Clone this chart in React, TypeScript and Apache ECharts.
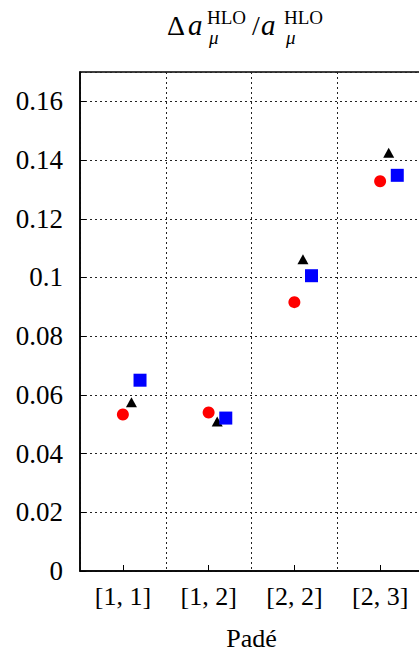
import React, { useEffect, useRef } from "react";
import * as echarts from "echarts";

const categories = ["[1, 1]", "[1, 2]", "[2, 2]", "[2, 3]"];
const redCircles = [0.0533, 0.054, 0.0916, 0.1328];
const blackTriangles = [0.0575, 0.0509, 0.1062, 0.1425];
const blueSquares = [0.065, 0.0521, 0.1006, 0.1348];
const yTicks = { min: 0, max: 0.17, interval: 0.02 };
const seriesOffsets = [0, 0.1, 0.2];

const FONT = "Liberation Serif";

function toPoints(vals: number[], off: number) {
  return vals.map((v, i) => [i + 1 + off, v]);
}

export default function App() {
  const ref = useRef<HTMLDivElement>(null);
  useEffect(() => {
    if (!ref.current) return;
    const chart = echarts.init(ref.current, null, { renderer: "svg" });
    const grid = { left: 80, top: 72, width: 343, height: 499 };
    const titleParts: any[] = [
      { t: "Δ", x: 167, y: 25, size: 28, italic: false },
      { t: "a", x: 188, y: 25, size: 29, italic: true },
      { t: "HLO", x: 207, y: 17, size: 19, italic: false },
      { t: "μ", x: 209, y: 37, size: 19, italic: true },
      { t: "/", x: 252, y: 25, size: 28, italic: false },
      { t: "a", x: 261, y: 25, size: 29, italic: true },
      { t: "HLO", x: 284, y: 17, size: 19, italic: false },
      { t: "μ", x: 286, y: 37, size: 19, italic: true },
    ];
    chart.setOption({
      animation: false,
      backgroundColor: "#fff",
      grid: {
        ...grid,
        outerBoundsMode: "none",
        containLabel: false,
        show: true,
        borderColor: "#000",
        borderWidth: 1.5,
        backgroundColor: "transparent",
      },
      graphic: titleParts.map((p) => ({
        type: "text",
        x: p.x,
        y: p.y,
        style: {
          text: p.t,
          fontSize: p.size,
          fontFamily: FONT,
          fontStyle: p.italic ? "italic" : "normal",
          fill: "#000",
          verticalAlign: "middle",
          align: "left",
        },
      })),
      xAxis: [
        {
          type: "category",
          data: categories,
          position: "bottom",
          boundaryGap: true,
          name: "Padé",
          nameLocation: "middle",
          nameGap: 54,
          nameTextStyle: { fontFamily: FONT, fontSize: 26, color: "#000" },
          axisLine: { show: true, lineStyle: { color: "#000", width: 1.5 } },
          axisTick: { show: true, inside: true, length: 6, alignWithLabel: true, lineStyle: { color: "#000" } },
          axisLabel: { fontFamily: FONT, fontSize: 26, color: "#000", margin: 12 },
          splitLine: { show: true, lineStyle: { color: "#222", type: [2, 3], width: 1 } },
        },
        {
          type: "value",
          min: 0.5,
          max: 4.5,
          show: false,
          splitLine: { show: false },
        },
      ],
      yAxis: {
        type: "value",
        min: yTicks.min,
        max: yTicks.max,
        interval: yTicks.interval,
        axisLine: { show: true, lineStyle: { color: "#000", width: 1.5 } },
        axisTick: { show: true, inside: true, length: 6, lineStyle: { color: "#000" } },
        axisLabel: { fontFamily: FONT, fontSize: 27, color: "#000", margin: 17, showMaxLabel: false },
        splitLine: { show: true, lineStyle: { color: "#222", type: [2, 3], width: 1 } },
      },
      series: [
        {
          type: "scatter",
          xAxisIndex: 1,
          data: toPoints(redCircles, seriesOffsets[0]),
          symbol: "circle",
          symbolSize: 12,
          itemStyle: { color: "#ff0000", opacity: 1 },
        },
        {
          type: "scatter",
          xAxisIndex: 1,
          data: toPoints(blackTriangles, seriesOffsets[1]),
          symbol: "triangle",
          symbolSize: [11, 10],
          itemStyle: { color: "#000", opacity: 1 },
        },
        {
          type: "scatter",
          xAxisIndex: 1,
          data: toPoints(blueSquares, seriesOffsets[2]),
          symbol: "rect",
          symbolSize: 13,
          itemStyle: { color: "#0000ff", opacity: 1 },
        },
      ],
    });
    return () => chart.dispose();
  }, []);
  return (
    <div
      ref={ref}
      style={{ position: "fixed", left: 0, top: 0, width: 419, height: 654, background: "#fff" }}
    />
  );
}
